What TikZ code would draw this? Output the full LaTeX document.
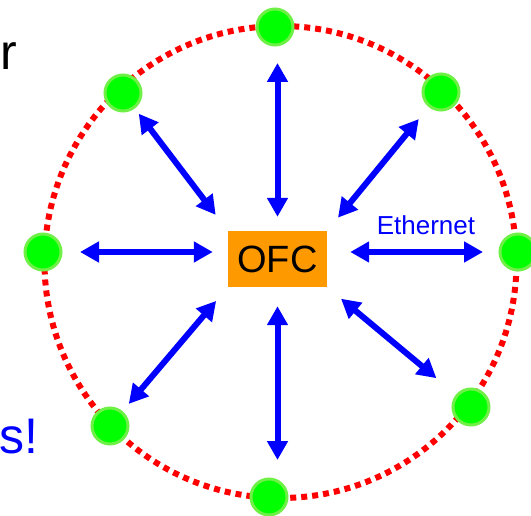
\documentclass[tikz,border=0pt]{standalone}
\usepackage{fontspec}
\setmainfont{Liberation Sans}
\usetikzlibrary{arrows.meta,positioning}
\definecolor{ofcorange}{RGB}{255,153,0}
\definecolor{ringred}{RGB}{255,0,0}
\definecolor{hostgreen}{RGB}{0,255,0}
\definecolor{hostrim}{RGB}{110,240,70}
\definecolor{linkblue}{RGB}{0,0,255}
\tikzstyle{ofc} = [rectangle,fill=ofcorange,minimum width=99pt,minimum height=56pt,
  inner sep=0pt,font=\fontsize{38}{40}\selectfont]
\tikzstyle{host} = [circle,fill=hostgreen,draw=hostrim,line width=3pt,
  minimum size=36pt,inner sep=0pt]
\tikzstyle{ring} = [draw=ringred,line width=6pt,dash pattern=on 6pt off 5pt]
\tikzstyle{line} = [draw=linkblue,line width=6pt,
  {Triangle[length=19pt,width=20pt]}-{Triangle[length=19pt,width=20pt]}]
\tikzstyle{bigtext} = [inner sep=0pt,anchor=base east,font=\fontsize{50}{52}\selectfont]

\begin{document}
\begin{tikzpicture}[x=1pt, y=-1pt]
\useasboundingbox (0,0) rectangle (531,516);

\draw [ring] (280.5,262) circle (236pt);

\node [ofc] (ofc_box) at (277.5,259) {OFC};

\node [host] (host_n) at (275,27) {};
\node [host] (host_ne) at (441,92) {};
\node [host] (host_e) at (518,252) {};
\node [host] (host_se) at (471,407) {};
\node [host] (host_s) at (269,497) {};
\node [host] (host_sw) at (110,426) {};
\node [host] (host_w) at (43,252) {};
\node [host] (host_nw) at (123,93) {};

\path [line, shorten <=14pt, shorten >=36pt] (ofc_box.north) -- (ofc_box.north |- host_n.center);
\path [line, shorten <=19pt, shorten >=37pt] (ofc_box.south) -- (ofc_box.south |- host_s.center);
\path [line, shorten <=15pt, shorten >=37pt] (ofc_box.west |- host_w.center) -- (host_w.center);
\path [line, shorten <=23pt, shorten >=35pt] (ofc_box.east |- host_e.center) -- (host_e.center);

\path [line, shorten <=20pt, shorten >=26pt] (ofc_box.north west) -- (host_nw.center);
\path [line, shorten <=17pt, shorten >=35pt] (ofc_box.north east) -- (host_ne.center);
\path [line, shorten <=18pt, shorten >=29pt] (ofc_box.south west) -- (host_sw.center);
\path [line, shorten <=18pt, shorten >=45pt] (ofc_box.south east) -- (host_se.center);

\node [anchor=base, inner sep=0pt, text=linkblue, font=\fontsize{26}{28}\selectfont] (ethernet_label) at (426,235) {Ethernet};

\node [bigtext] (cut_r) at (17,70) {r};
\node [bigtext, text=linkblue] (cut_s) at (39,453) {s!};
\end{tikzpicture}
\end{document}
